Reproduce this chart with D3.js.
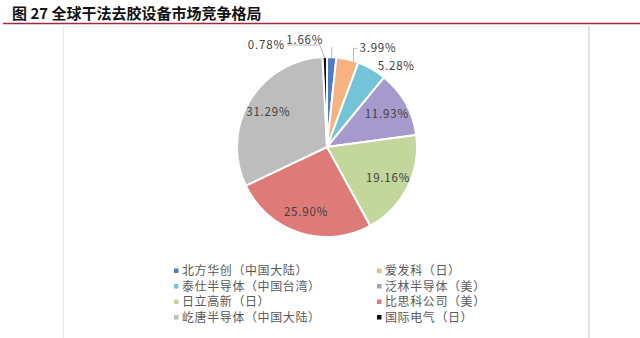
<!DOCTYPE html>
<html><head><meta charset="utf-8">
<script src="https://cdn.jsdelivr.net/npm/d3@7"></script>
<style>body{margin:0;background:#fff}svg{display:block}</style>
</head><body>
<svg id="c" width="640" height="338"></svg>
<script>
const title = "图 27 全球干法去胶设备市场竞争格局";
const categories = ["北方华创（中国大陆）","爱发科（日）","泰仕半导体（中国台湾）","泛林半导体（美）","日立高新（日）","比思科公司（美）","屹唐半导体（中国大陆）","国际电气（日）"];
const shares = [1.66, 3.99, 5.28, 11.93, 19.16, 25.90, 31.29, 0.78];
const colors = ["#4a7cc9","#f7b27f","#74c4d9","#a59acb","#c3d69b","#de7b79","#bdbdbd","#0d0d0d"];

const svg = d3.select("#c");
// frame
svg.append("line").attr("x1",3).attr("x2",640).attr("y1",23.5).attr("y2",23.5)
  .attr("stroke","#a3293f").attr("stroke-width",1.5);
svg.append("line").attr("x1",63).attr("x2",589).attr("y1",26.5).attr("y2",26.5)
  .attr("stroke","#eeeeee").attr("stroke-width",1);
svg.append("line").attr("x1",63.5).attr("x2",63.5).attr("y1",26).attr("y2",338)
  .attr("stroke","#e8e8e8").attr("stroke-width",1);
svg.append("line").attr("x1",589).attr("x2",589).attr("y1",26).attr("y2",338)
  .attr("stroke","#e4e4e4").attr("stroke-width",2);

svg.append("text").attr("x",12).attr("y",19).text(title)
  .attr("font-family","'Noto Sans CJK SC'").attr("font-weight","bold")
  .attr("font-size",15).attr("fill","#111");

const cx = 327, cy = 147, R = 90;
const g = svg.append("g").attr("transform",`translate(${cx},${cy})`);
const data = categories.map((c,i)=>({name:c, value:shares[i], color:colors[i]}));
const pie = d3.pie().sort(null).value(d=>d.value);
const arcs = pie(data);
const arc = d3.arc().innerRadius(0).outerRadius(R);
g.selectAll("path").data(arcs).join("path")
  .attr("d",arc).attr("fill",d=>d.data.color)
  .attr("stroke","#fff").attr("stroke-width",2).attr("stroke-linejoin","round");

const fmt = v => v.toFixed(2) + "%";
const inner = d3.arc().innerRadius(R*0.76).outerRadius(R*0.76);
const labelFont = "'Noto Sans CJK SC'";
// outside label layout nudges (layout only)
const outside = {
  "北方华创（中国大陆）": {dx:-27, dy:-17, anchor:"middle", lead:"v"},
  "爱发科（日）": {dx:12, dy:-11, anchor:"start", lead:"l"},
  "泰仕半导体（中国台湾）": {dx:6, dy:-3, anchor:"start", lead:null},
  "国际电气（日）": {dx:-40, dy:-12, anchor:"end", lead:"h"}
};
arcs.forEach(d=>{
  const v = d.data.value;
  const o = outside[d.data.name];
  let x, y, anchor="middle";
  if (o) {
    const a = (d.startAngle+d.endAngle)/2;
    const px = Math.sin(a)*R, py = -Math.cos(a)*R;
    x = px + o.dx; y = py + o.dy; anchor = o.anchor;
    let pts = null;
    if (o.lead === "h") pts = [[x+3,y],[px-5,y],[px,py+1]];
    else if (o.lead === "l") pts = [[x-2,y],[x-6,y],[x-6,py+3]];
    else if (o.lead === "v") pts = [[px,y+7],[px,py+1]];
    if (pts) g.append("polyline").attr("points",pts.map(p=>p.join(",")).join(" "))
        .attr("fill","none").attr("stroke","#a6a6a6").attr("stroke-width",0.8);
  } else {
    [x,y] = inner.centroid(d);
  }
  g.append("text").attr("x",x).attr("y",y).attr("dy","0.35em")
    .attr("text-anchor",anchor).text(fmt(v))
    .attr("font-family",labelFont).attr("font-size",11.5)
    .attr("letter-spacing",0.8).attr("fill","#404040");
});

// legend
const lg = svg.append("g");
const colX = [176, 379], rowY = [271, 286.5, 302, 317.5];
data.forEach((d,i)=>{
  const c = i%2, r = Math.floor(i/2);
  const item = lg.append("g").attr("transform",`translate(${colX[c]},${rowY[r]})`);
  item.append("rect").attr("x",-2).attr("y",-2.5).attr("width",4.5).attr("height",4.5).attr("fill",d.color);
  item.append("text").attr("x",6).attr("y",0).attr("dy","0.36em").text(d.name)
    .attr("font-family","'Noto Sans CJK SC'").attr("font-size",12)
    .attr("letter-spacing",0.6).attr("fill","#595959");
});
</script>
</body></html>
